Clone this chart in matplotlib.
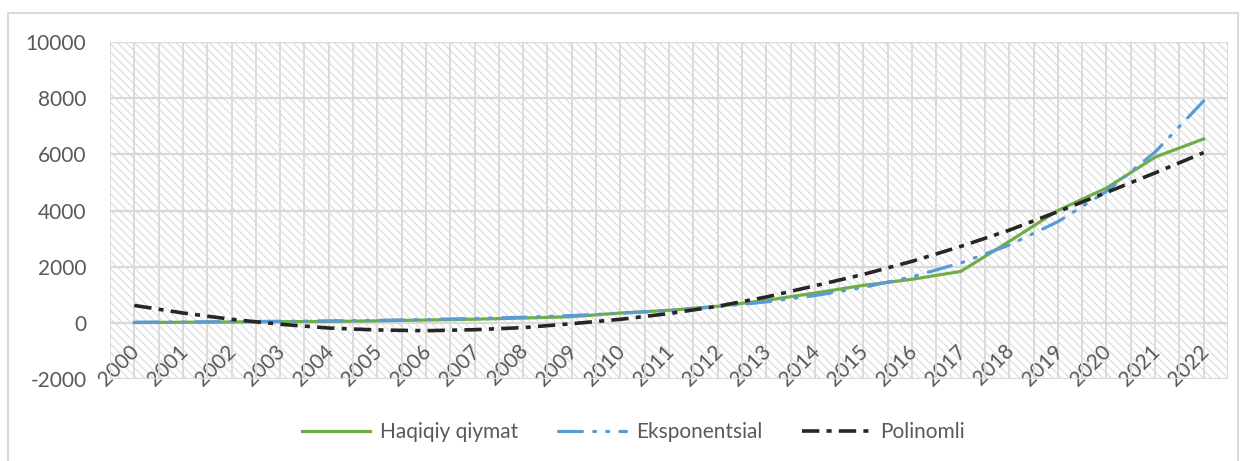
import matplotlib.pyplot as plt
from matplotlib.patches import Rectangle
from matplotlib.transforms import ScaledTranslation

# data
years = [str(y) for y in range(2000, 2023)]
haqiqiy = [10, 20, 30, 40, 50, 70, 100, 130, 170, 220, 350, 445, 590, 800, 1060,
           1335, 1550, 1830, 2900, 4000, 4800, 5900, 6550]
eksponentsial = [20, 30, 40, 55, 70, 90, 120, 155, 200, 260, 340, 440, 570, 745, 970,
                 1260, 1640, 2130, 2770, 3600, 4680, 6080, 7900]
polinomli = [620, 350, 125, -50, -185, -255, -280, -245, -170, -30, 125, 330, 590, 920, 1320,
             1725, 2190, 2720, 3300, 3960, 4640, 5340, 6060]
y_ticks = [-2000, 0, 2000, 4000, 6000, 8000, 10000]

plt.rcParams['font.family'] = ['Lato', 'DejaVu Sans']
grey_txt = '#595959'
grid_c = '#d9d9d9'

fig = plt.figure(figsize=(12.44, 4.61), dpi=100)
ax = fig.add_axes([110/1244, 1 - 379/461, 1118/1244, 337/461])

# outer chart frame
fig.patches.append(Rectangle((8/1244, -0.05), 1230/1244, 1 - 13/461 + 0.05,
                             transform=fig.transFigure, fill=False,
                             edgecolor=grid_c, lw=1.5))

# hatched plot background
plt.rcParams['hatch.linewidth'] = 0.9
ax.add_patch(Rectangle((0, 0), 1, 1, transform=ax.transAxes, fill=False,
                       hatch='\\\\\\\\', edgecolor='#dedede', lw=0, zorder=0))

x = list(range(len(years)))
ax.plot(x, haqiqiy, color='#70AD47', lw=2.3, label='Haqiqiy qiymat', zorder=3)
ax.plot(x, eksponentsial, color='#5B9BD5', lw=2.3, label='Eksponentsial', zorder=4,
        linestyle=(0, (7.5, 3.5, 0.6, 3.5, 0.6, 3.5)), dash_capstyle='round')
ax.plot(x, polinomli, color='#262626', lw=2.6, label='Polinomli', zorder=5,
        linestyle=(0, (4.8, 2.0, 1.4, 2.0)))

ax.set_xlim(-0.5, len(years) - 0.5)
ax.set_ylim(-2000, 10000)
ax.set_yticks(y_ticks)
ax.set_yticklabels([str(v) for v in y_ticks])
ax.set_xticks(x)
ax.set_xticks([i - 0.5 for i in range(len(years) + 1)], minor=True)
ax.set_xticklabels(years, rotation=45, ha='right', va='center', rotation_mode='anchor')

ax.grid(True, which='both', axis='x', color=grid_c, lw=1.3, zorder=1)
ax.grid(True, which='major', axis='y', color=grid_c, lw=1.6, zorder=1)
ax.set_axisbelow(True)

ax.tick_params(axis='both', which='both', length=0, colors=grey_txt, labelsize=15)
ax.tick_params(axis='y', pad=17)
ax.tick_params(axis='x', pad=0)
for lbl in ax.get_xticklabels():
    lbl.set_transform(lbl.get_transform() + ScaledTranslation(0.02, 0.31, fig.dpi_scale_trans))

for s in ax.spines.values():
    s.set_visible(False)

leg = fig.legend(loc='center', bbox_to_anchor=(633/1244, 1 - 432/461), ncol=3, frameon=False,
                 fontsize=15, handlelength=3.3, handletextpad=0.45, columnspacing=1.9)
for t in leg.get_texts():
    t.set_color(grey_txt)

fig.savefig('out.png', dpi=100)
